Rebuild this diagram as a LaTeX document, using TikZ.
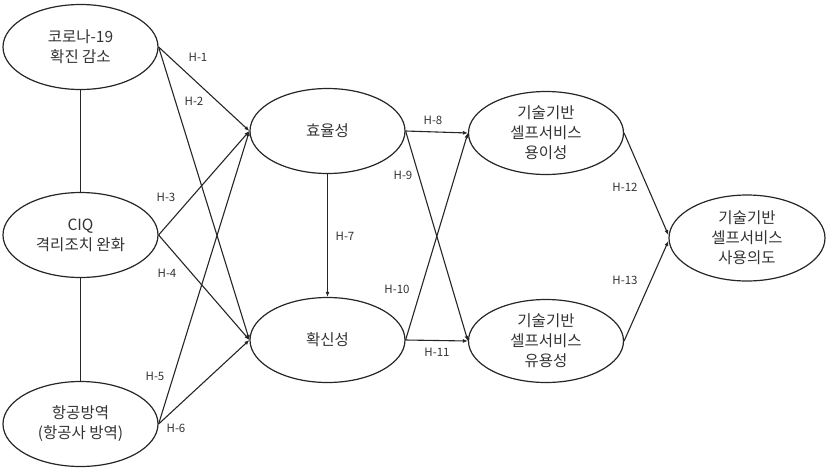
\documentclass[tikz,border=0pt]{standalone}
\usepackage{fontspec}
\setmainfont{Noto Sans CJK KR}
\usetikzlibrary{shapes.geometric,arrows.meta}
\definecolor{ln}{HTML}{262626}
\definecolor{tx}{HTML}{333333}
\tikzset{
  ell/.style={ellipse,draw=ln,line width=1.2pt,minimum width=155pt,minimum height=85pt,inner sep=0pt},
  lbl/.style={align=center,text=tx,font=\fontsize{15.5}{20}\selectfont,inner sep=0pt},
  hyp/.style={text=tx,font=\fontsize{11.5}{13}\selectfont,inner sep=0pt},
  con/.style={draw=ln,line width=1.1pt},
  arr/.style={con,-{Latex[length=5pt,width=4pt]}},
}
\begin{document}
\begin{tikzpicture}[x=1pt,y=-1pt]
\useasboundingbox (0,0) rectangle (827,472);
\node[ell] (e1) at (80.5,47) {};
\node[ell] (e2) at (80.5,235) {};
\node[ell] (e3) at (80.5,424) {};
\node[ell] (eff) at (327.5,131) {};
\node[ell] (ass) at (327.5,340) {};
\node[ell,minimum height=83pt] (easy) at (546,133) {};
\node[ell,minimum height=83pt] (use) at (546,341) {};
\node[ell,minimum width=156pt,minimum height=86pt] (int) at (747,238) {};

\node[lbl] (t1) at (e1) {코로나-19\\확진 감소};
\node[lbl] (t2) at (e2) {CIQ\\격리조치 완화};
\node[lbl] (t3) at (e3) {항공방역\\(항공사 방역)};
\node[lbl] (t4) at (eff) {효율성};
\node[lbl] (t5) at (ass) {확신성};
\node[lbl] (t6) at (easy) {기술기반\\셀프서비스\\용이성};
\node[lbl] (t7) at (use) {기술기반\\셀프서비스\\유용성};
\node[lbl] (t8) at (int) {기술기반\\셀프서비스\\사용의도};

\draw[con] (e1.south) -- (e2.north);
\draw[con] (e2.south) -- (e3.north);

\draw[arr] (e1.east) -- (eff.west);
\draw[arr] (e1.east) -- (ass.west);
\draw[arr] (e2.east) -- (eff.west);
\draw[arr] (e2.east) -- (ass.west);
\draw[arr] (e3.east) -- (eff.west);
\draw[arr] (e3.east) -- (ass.west);
\draw[arr] (eff.south) -- (ass.north);
\draw[arr] (eff.east) -- (easy.west);
\draw[arr] (eff.east) -- (use.west);
\draw[arr] (ass.east) -- (easy.west);
\draw[arr] (ass.east) -- (use.west);
\draw[arr] (easy.east) -- ([yshift=3pt]int.west);
\draw[arr] (use.east) -- ([yshift=-3pt]int.west);

\node[hyp] (h1) at (198,57) {H-1};
\node[hyp] (h2) at (194,101) {H-2};
\node[hyp] (h3) at (166,197) {H-3};
\node[hyp] (h4) at (167,273) {H-4};
\node[hyp] (h5) at (155,376) {H-5};
\node[hyp] (h6) at (176,428) {H-6};
\node[hyp] (h7) at (345,236) {H-7};
\node[hyp] (h8) at (433,120) {H-8};
\node[hyp] (h9) at (403,175) {H-9};
\node[hyp] (h10) at (397,289) {H-10};
\node[hyp] (h11) at (437,352) {H-11};
\node[hyp] (h12) at (625,187) {H-12};
\node[hyp] (h13) at (625,280) {H-13};
\end{tikzpicture}
\end{document}
